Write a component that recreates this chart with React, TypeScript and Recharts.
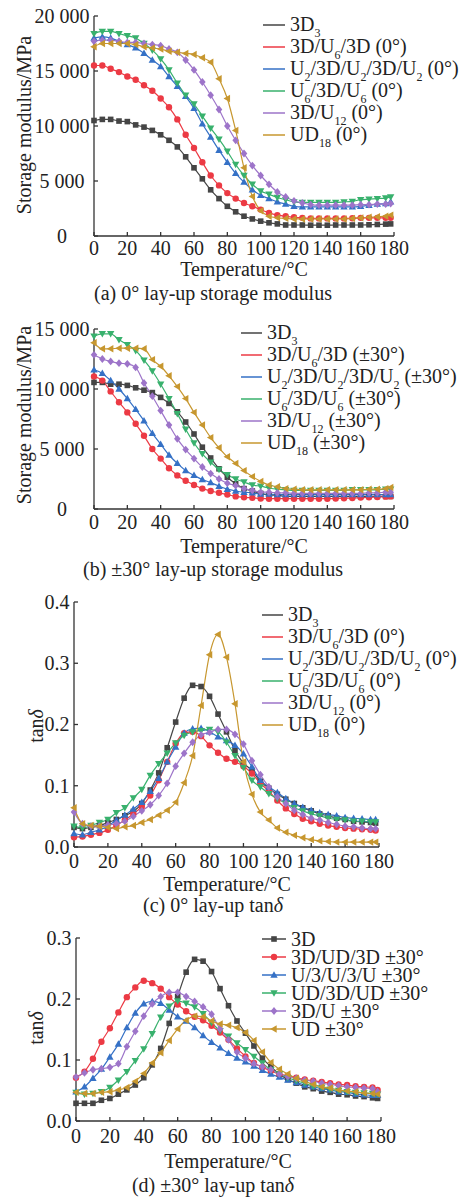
import React from "react";
import { LineChart, Line, XAxis, YAxis } from "recharts";

const FONT = '"Liberation Serif", "Times New Roman", serif';
const INK = "#222";
const FS = 20;

// temperature steps (°C), shared by every panel
const temps = [0, 5, 10, 15, 20, 25, 30, 35, 40, 45, 50, 55, 60, 65, 70, 75, 80, 85, 90, 95, 100, 105, 110, 115, 120, 125, 130, 135, 140, 145, 150, 155, 160, 165, 170, 175, 178];
const xTicks = [0, 20, 40, 60, 80, 100, 120, 140, 160, 180];
const modulusTicksA = [0, 5000, 10000, 15000, 20000];
const modulusTicksB = [0, 5000, 10000, 15000];
const tanTicksC = [0, 0.1, 0.2, 0.3, 0.4];
const tanTicksD = [0, 0.1, 0.2, 0.3];

// (a) 0° storage modulus, MPa
const a3D3 = [10500, 10600, 10600, 10450, 10400, 10100, 9900, 9600, 9200, 8700, 8100, 7200, 6200, 5200, 4200, 3400, 2700, 2200, 1800, 1550, 1350, 1200, 1100, 1000, 1000, 1000, 980, 980, 980, 1000, 1000, 1000, 1000, 1020, 1050, 1080, 1100];
const a3DU6 = [15500, 15500, 15200, 14900, 14500, 14200, 13700, 13200, 12500, 11700, 10600, 9200, 8000, 6700, 5500, 4600, 3900, 3400, 3000, 2700, 2400, 2100, 1900, 1800, 1700, 1650, 1600, 1600, 1600, 1600, 1600, 1620, 1650, 1650, 1650, 1650, 1650];
const aU2 = [18000, 18100, 18000, 17700, 17400, 17100, 16600, 16000, 15400, 14500, 13600, 12700, 11600, 10200, 9000, 7800, 6700, 5700, 4900, 4200, 3700, 3400, 3100, 2900, 2700, 2650, 2650, 2650, 2650, 2650, 2650, 2650, 2700, 2800, 2900, 2950, 3100];
const aU6 = [18400, 18600, 18600, 18400, 18200, 18000, 17500, 16900, 16100, 15100, 13900, 12800, 12000, 10900, 9800, 8800, 7700, 6500, 5500, 4700, 4100, 3800, 3500, 3300, 3100, 3050, 3050, 3050, 3050, 3050, 3100, 3150, 3300, 3350, 3400, 3450, 3550];
const aU12 = [17700, 17800, 17800, 17700, 17600, 17600, 17500, 17400, 17300, 17000, 16700, 16000, 15100, 14000, 12800, 11500, 10000, 8700, 7500, 6400, 5500, 4700, 4000, 3550, 3200, 3000, 2850, 2800, 2800, 2800, 2800, 2800, 2850, 2850, 2900, 2900, 2950];
const aUD18 = [17200, 17500, 17500, 17500, 17500, 17400, 17200, 17100, 17000, 16800, 16700, 16600, 16500, 16200, 15800, 14300, 12500, 9600, 6200, 3600, 2300, 1800, 1650, 1600, 1550, 1550, 1550, 1550, 1550, 1550, 1550, 1600, 1650, 1700, 1750, 1800, 1900];

// (b) ±30° storage modulus, MPa
const b3D3 = [10550, 10550, 10400, 10400, 10300, 10100, 9900, 9700, 9300, 8800, 8100, 7250, 6250, 5150, 4250, 3350, 2650, 2100, 1700, 1500, 1300, 1150, 1150, 1050, 1050, 1050, 1050, 1050, 1050, 1050, 1050, 1050, 1050, 1050, 1050, 1050, 1050];
const b3DU6 = [11050, 10700, 9800, 8900, 8050, 7100, 6100, 5000, 4200, 3400, 2800, 2350, 2000, 1700, 1500, 1350, 1200, 1050, 970, 930, 880, 860, 860, 860, 860, 860, 860, 860, 860, 880, 900, 920, 950, 970, 1000, 1030, 1050];
const bU2 = [11600, 11300, 10700, 10000, 9200, 8300, 7350, 6300, 5400, 4500, 3800, 3200, 2800, 2450, 2200, 1900, 1650, 1500, 1400, 1350, 1250, 1250, 1200, 1200, 1200, 1200, 1200, 1200, 1200, 1200, 1200, 1200, 1200, 1200, 1200, 1200, 1200];
const bU6 = [14400, 14600, 14600, 14100, 13700, 13200, 12400, 11500, 10400, 9200, 7950, 6650, 5500, 4600, 3900, 3300, 2850, 2500, 2250, 2000, 1900, 1750, 1650, 1600, 1550, 1550, 1550, 1550, 1550, 1550, 1550, 1600, 1600, 1600, 1600, 1650, 1650];
const bU12 = [12850, 12500, 12300, 12150, 12100, 11800, 10500, 9400, 8200, 7000, 5850, 4950, 4200, 3500, 2950, 2500, 2150, 1950, 1700, 1550, 1400, 1400, 1350, 1350, 1300, 1300, 1300, 1300, 1300, 1300, 1300, 1300, 1300, 1350, 1350, 1400, 1400];
const bUD18 = [13850, 13350, 13350, 13400, 13400, 13400, 13350, 12450, 11900, 11100, 10200, 9200, 8050, 7000, 5950, 5100, 4350, 3800, 3200, 2700, 2300, 2000, 1850, 1700, 1650, 1600, 1600, 1600, 1600, 1600, 1600, 1600, 1600, 1650, 1650, 1700, 1800];

// (c) 0° tan delta
const c3D3 = [0.032, 0.030, 0.032, 0.035, 0.040, 0.045, 0.051, 0.058, 0.071, 0.093, 0.121, 0.162, 0.204, 0.243, 0.264, 0.262, 0.246, 0.217, 0.188, 0.158, 0.137, 0.125, 0.107, 0.096, 0.086, 0.078, 0.071, 0.064, 0.059, 0.054, 0.051, 0.047, 0.045, 0.042, 0.041, 0.040, 0.039];
const c3DU6 = [0.016, 0.017, 0.020, 0.023, 0.028, 0.035, 0.044, 0.054, 0.066, 0.084, 0.109, 0.139, 0.169, 0.186, 0.188, 0.181, 0.166, 0.154, 0.144, 0.139, 0.132, 0.120, 0.104, 0.091, 0.076, 0.063, 0.054, 0.046, 0.042, 0.038, 0.035, 0.033, 0.031, 0.030, 0.029, 0.028, 0.027];
const cU2 = [0.022, 0.020, 0.024, 0.028, 0.034, 0.044, 0.052, 0.062, 0.073, 0.091, 0.112, 0.139, 0.163, 0.186, 0.193, 0.194, 0.188, 0.180, 0.174, 0.166, 0.152, 0.131, 0.109, 0.098, 0.089, 0.079, 0.071, 0.065, 0.060, 0.056, 0.053, 0.051, 0.048, 0.047, 0.046, 0.045, 0.045];
const cU6 = [0.034, 0.031, 0.035, 0.040, 0.045, 0.056, 0.064, 0.080, 0.094, 0.117, 0.136, 0.153, 0.170, 0.182, 0.188, 0.190, 0.192, 0.188, 0.171, 0.149, 0.130, 0.109, 0.098, 0.087, 0.079, 0.071, 0.064, 0.059, 0.054, 0.051, 0.047, 0.045, 0.044, 0.042, 0.042, 0.041, 0.041];
const cU12 = [0.057, 0.038, 0.034, 0.034, 0.036, 0.038, 0.042, 0.050, 0.059, 0.069, 0.084, 0.104, 0.132, 0.153, 0.171, 0.183, 0.187, 0.192, 0.192, 0.184, 0.168, 0.141, 0.118, 0.098, 0.082, 0.071, 0.060, 0.053, 0.047, 0.044, 0.040, 0.037, 0.034, 0.033, 0.031, 0.030, 0.030];
const cUD18 = [0.064, 0.038, 0.035, 0.034, 0.032, 0.030, 0.033, 0.035, 0.040, 0.045, 0.052, 0.060, 0.073, 0.105, 0.149, 0.231, 0.314, 0.347, 0.310, 0.234, 0.139, 0.086, 0.057, 0.044, 0.031, 0.024, 0.019, 0.015, 0.012, 0.010, 0.009, 0.008, 0.008, 0.008, 0.008, 0.008, 0.008];

// (d) ±30° tan delta
const d3D = [0.029, 0.029, 0.029, 0.034, 0.037, 0.044, 0.051, 0.059, 0.071, 0.092, 0.119, 0.160, 0.204, 0.244, 0.265, 0.262, 0.245, 0.217, 0.189, 0.164, 0.144, 0.123, 0.103, 0.089, 0.077, 0.068, 0.062, 0.056, 0.053, 0.049, 0.047, 0.044, 0.043, 0.041, 0.040, 0.038, 0.037];
const d3DUD = [0.071, 0.081, 0.102, 0.130, 0.152, 0.178, 0.203, 0.219, 0.230, 0.226, 0.217, 0.203, 0.191, 0.180, 0.171, 0.165, 0.156, 0.145, 0.133, 0.119, 0.106, 0.095, 0.088, 0.082, 0.077, 0.074, 0.071, 0.068, 0.066, 0.064, 0.062, 0.060, 0.059, 0.057, 0.056, 0.055, 0.051];
const dU3 = [0.048, 0.056, 0.070, 0.085, 0.105, 0.126, 0.153, 0.177, 0.192, 0.196, 0.193, 0.182, 0.171, 0.164, 0.153, 0.140, 0.129, 0.120, 0.111, 0.103, 0.097, 0.090, 0.083, 0.077, 0.072, 0.067, 0.063, 0.059, 0.056, 0.053, 0.051, 0.048, 0.047, 0.044, 0.043, 0.042, 0.042];
const dUD3DUD = [0.047, 0.044, 0.045, 0.048, 0.055, 0.067, 0.081, 0.099, 0.118, 0.143, 0.170, 0.188, 0.197, 0.193, 0.187, 0.176, 0.161, 0.148, 0.139, 0.128, 0.117, 0.106, 0.095, 0.084, 0.077, 0.071, 0.066, 0.062, 0.057, 0.055, 0.052, 0.050, 0.048, 0.047, 0.046, 0.045, 0.044];
const d3DU = [0.072, 0.079, 0.084, 0.086, 0.088, 0.094, 0.122, 0.147, 0.172, 0.192, 0.204, 0.211, 0.211, 0.204, 0.196, 0.187, 0.175, 0.151, 0.133, 0.113, 0.103, 0.094, 0.089, 0.084, 0.077, 0.073, 0.070, 0.067, 0.065, 0.062, 0.060, 0.058, 0.056, 0.055, 0.054, 0.053, 0.048];
const dUD = [0.047, 0.045, 0.045, 0.047, 0.048, 0.051, 0.055, 0.065, 0.078, 0.095, 0.112, 0.132, 0.151, 0.165, 0.172, 0.171, 0.164, 0.159, 0.157, 0.153, 0.145, 0.132, 0.113, 0.096, 0.085, 0.077, 0.070, 0.065, 0.060, 0.056, 0.054, 0.051, 0.049, 0.048, 0.046, 0.045, 0.044];

const colors = ["#454545", "#ec3a44", "#3571c6", "#38b16d", "#9d74c9", "#c7972f"];
const shapes = ["square", "circle", "up", "down", "diamond", "left"];

const Sub = ({ children }: { children: React.ReactNode }) => (
  <span style={{ fontSize: 12, position: "relative", top: 6 }}>{children}</span>
);
const Delta = () => <i>δ</i>;

const names0 = [
  <>3D<Sub>3</Sub></>,
  <>3D/U<Sub>6</Sub>/3D (0°)</>,
  <>U<Sub>2</Sub>/3D/U<Sub>2</Sub>/3D/U<Sub>2</Sub> (0°)</>,
  <>U<Sub>6</Sub>/3D/U<Sub>6</Sub> (0°)</>,
  <>3D/U<Sub>12</Sub> (0°)</>,
  <>UD<Sub>18</Sub> (0°)</>,
];
const names30 = [
  <>3D<Sub>3</Sub></>,
  <>3D/U<Sub>6</Sub>/3D (±30°)</>,
  <>U<Sub>2</Sub>/3D/U<Sub>2</Sub>/3D/U<Sub>2</Sub> (±30°)</>,
  <>U<Sub>6</Sub>/3D/U<Sub>6</Sub> (±30°)</>,
  <>3D/U<Sub>12</Sub> (±30°)</>,
  <>UD<Sub>18</Sub> (±30°)</>,
];
const namesD = ["3D", "3D/UD/3D ±30°", "U/3/U/3/U ±30°", "UD/3D/UD ±30°", "3D/U ±30°", "UD ±30°"];

function Marker({ cx, cy, shape, color }: { cx: number; cy: number; shape: string; color: string }) {
  if (cx == null || cy == null || isNaN(cx) || isNaN(cy)) return <g />;
  switch (shape) {
    case "square":
      return <rect x={cx - 2.8} y={cy - 2.8} width={5.6} height={5.6} fill={color} />;
    case "circle":
      return <circle cx={cx} cy={cy} r={3.2} fill={color} />;
    case "up":
      return <polygon points={`${cx},${cy - 3.8} ${cx + 3.7},${cy + 2.7} ${cx - 3.7},${cy + 2.7}`} fill={color} />;
    case "down":
      return <polygon points={`${cx},${cy + 3.8} ${cx + 3.7},${cy - 2.7} ${cx - 3.7},${cy - 2.7}`} fill={color} />;
    case "diamond":
      return <polygon points={`${cx},${cy - 3.9} ${cx + 3.3},${cy} ${cx},${cy + 3.9} ${cx - 3.3},${cy}`} fill={color} />;
    default:
      return <polygon points={`${cx - 3.8},${cy} ${cx + 2.7},${cy - 3.7} ${cx + 2.7},${cy + 3.7}`} fill={color} />;
  }
}

type PanelProps = {
  top: number;
  height: number;
  plot: [number, number, number, number]; // left, right, top, bottom in page px
  series: number[][];
  yDomain: [number, number];
  yTicks: number[];
  yFmt: (v: number) => string;
  yTickX: number;
  xTickBase: number;
};

function Panel({ top, height, plot, series, yDomain, yTicks, yFmt, yTickX, xTickBase }: PanelProps) {
  const [l, r, t, b] = plot;
  const rows = temps.map((tt, i) => {
    const row: Record<string, number> = { t: tt };
    series.forEach((s, k) => (row["s" + k] = s[i]));
    return row;
  });
  const axisBottom = b - top;
  return (
    <div style={{ position: "absolute", left: 0, top }}>
      <LineChart width={464} height={height} data={rows} margin={{ top: t - top, right: 464 - r, bottom: 0, left: 0 }}>
        <XAxis
          dataKey="t"
          type="number"
          domain={[0, 180]}
          ticks={xTicks}
          height={top + height - b}
          axisLine={{ stroke: "#333", strokeWidth: 1.3 }}
          tickLine={{ stroke: "#333", strokeWidth: 1.3 }}
          tickSize={-4}
          tick={(p: any) => (
            <text x={p.x} y={axisBottom + xTickBase} textAnchor="middle" fontSize={FS} fontFamily={FONT} fill={INK}>
              {p.payload.value}
            </text>
          )}
        />
        <YAxis
          type="number"
          domain={yDomain}
          ticks={yTicks}
          width={l}
          axisLine={{ stroke: "#333", strokeWidth: 1.3 }}
          tickLine={{ stroke: "#333", strokeWidth: 1.3 }}
          tickSize={-4}
          tick={(p: any) => (
            <text x={yTickX} y={p.y + 6.8} textAnchor="middle" fontSize={FS} fontFamily={FONT} fill={INK}>
              {yFmt(p.payload.value)}
            </text>
          )}
        />
        {series.map((_, k) => (
          <Line
            key={k}
            dataKey={"s" + k}
            type="monotone"
            stroke={colors[k]}
            strokeWidth={1.2}
            isAnimationActive={false}
            dot={(p: any) => <Marker key={`d${k}-${p.index}`} cx={p.cx} cy={p.cy} shape={shapes[k]} color={colors[k]} />}
          />
        ))}
      </LineChart>
    </div>
  );
}

function Legend({ x, textX, y0, step, len, names, markers }: { x: number; textX: number; y0: number; step: number; len: number; names: React.ReactNode[]; markers?: boolean }) {
  return (
    <>
      {names.map((n, i) => (
        <div key={i} style={{ position: "absolute", left: x, top: y0 + i * step - 11, height: 22, display: "flex", alignItems: "center", whiteSpace: "nowrap" }}>
          <svg width={len} height={12} style={{ display: "block" }}>
            <line x1={0} y1={6} x2={len} y2={6} stroke={colors[i]} strokeWidth={1.5} />
            {markers && <Marker cx={len / 2} cy={6} shape={shapes[i]} color={colors[i]} />}
          </svg>
          <span style={{ marginLeft: textX - x - len, fontSize: FS, lineHeight: "22px" }}>{n}</span>
        </div>
      ))}
    </>
  );
}

function Txt({ x, y, rotate, children }: { x: number; y: number; rotate?: boolean; children: React.ReactNode }) {
  return (
    <div
      style={{
        position: "absolute",
        left: x,
        top: y,
        transform: `translate(-50%, -50%)${rotate ? " rotate(-90deg)" : ""}`,
        whiteSpace: "nowrap",
        fontSize: FS,
        lineHeight: "22px",
      }}
    >
      {children}
    </div>
  );
}

const fmtMod = (v: number) => (v === 0 ? "0" : `${v / 1000} 000`);
const fmtTan = (v: number) => v.toFixed(1);

export default function App() {
  return (
    <div style={{ position: "absolute", left: 0, top: 0, width: 464, height: 1198, background: "#fff", fontFamily: FONT, color: INK, overflow: "hidden" }}>
      {/* (a) */}
      <Panel top={0} height={300} plot={[94, 394, 16, 236]} series={[a3D3, a3DU6, aU2, aU6, aU12, aUD18]} yDomain={[0, 20000]} yTicks={modulusTicksA} yFmt={fmtMod} yTickX={62} xTickBase={19} />
      <Legend x={263} textX={290} y0={25} step={22} len={22} names={names0} />
      <Txt x={24} y={125} rotate>Storage modulus/MPa</Txt>
      <Txt x={244} y={269}>Temperature/°C</Txt>
      <Txt x={213} y={293}>(a) 0° lay-up storage modulus</Txt>

      {/* (b) */}
      <Panel top={300} height={290} plot={[94, 394, 329, 509]} series={[b3D3, b3DU6, bU2, bU6, bU12, bUD18]} yDomain={[0, 15000]} yTicks={modulusTicksB} yFmt={fmtMod} yTickX={62} xTickBase={20} />
      <Legend x={241} textX={267} y0={333} step={22} len={21} names={names30} />
      <Txt x={24} y={415} rotate>Storage modulus/MPa</Txt>
      <Txt x={244} y={546}>Temperature/°C</Txt>
      <Txt x={213} y={569}>(b) ±30° lay-up storage modulus</Txt>

      {/* (c) */}
      <Panel top={590} height={300} plot={[74, 379, 602, 847]} series={[c3D3, c3DU6, cU2, cU6, cU12, cUD18]} yDomain={[0, 0.4]} yTicks={tanTicksC} yFmt={fmtTan} yTickX={57} xTickBase={21} />
      <Legend x={262} textX={288} y0={615} step={22} len={21} names={names0} />
      <Txt x={36} y={726} rotate>tan<Delta /></Txt>
      <Txt x={227} y={884}>Temperature/°C</Txt>
      <Txt x={213} y={905}>(c) 0° lay-up tan<Delta /></Txt>

      {/* (d) */}
      <Panel top={920} height={278} plot={[76, 381, 938, 1121]} series={[d3D, d3DUD, dU3, dUD3DUD, d3DU, dUD]} yDomain={[0, 0.3]} yTicks={tanTicksD} yFmt={fmtTan} yTickX={59} xTickBase={22} />
      <Legend x={262} textX={291} y0={939} step={18} len={24} names={namesD} markers />
      <Txt x={36} y={1028} rotate>tan<Delta /></Txt>
      <Txt x={228} y={1161}>Temperature/°C</Txt>
      <Txt x={213} y={1185}>(d) ±30° lay-up tan<Delta /></Txt>
    </div>
  );
}
